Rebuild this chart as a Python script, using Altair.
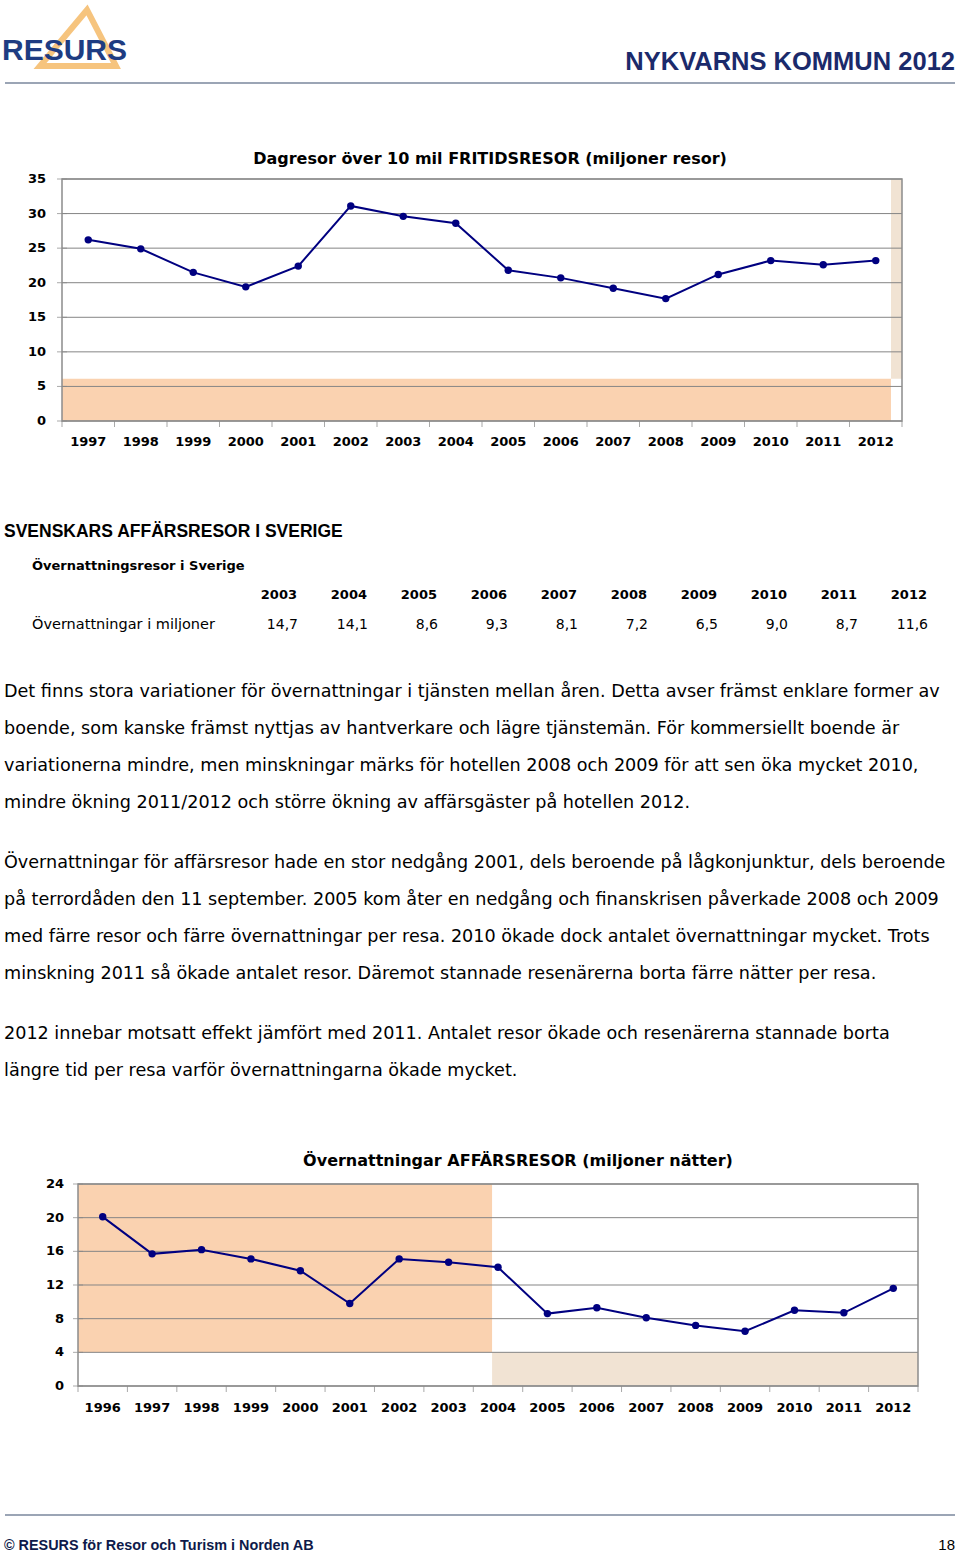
import altair as alt
import pandas as pd

# ---------------- data ----------------
top_years = list(range(1997, 2013))
top_values = [26.2, 24.9, 21.5, 19.4, 22.4, 31.1, 29.6, 28.6, 21.8, 20.7, 19.2, 17.7, 21.2, 23.2, 22.6, 23.2]
top_yticks = [0, 5, 10, 15, 20, 25, 30, 35]
top_title = "Dagresor över 10 mil FRITIDSRESOR (miljoner resor)"

bot_years = list(range(1996, 2013))
bot_values = [20.1, 15.7, 16.2, 15.1, 13.7, 9.8, 15.1, 14.7, 14.1, 8.6, 9.3, 8.1, 7.2, 6.5, 9.0, 8.7, 11.6]
bot_yticks = [0, 4, 8, 12, 16, 20, 24]
bot_title = "Övernattningar AFFÄRSRESOR (miljoner nätter)"

table_years = list(range(2003, 2013))
table_values = [14.7, 14.1, 8.6, 9.3, 8.1, 7.2, 6.5, 9.0, 8.7, 11.6]

header_title = "NYKVARNS KOMMUN 2012"
logo_text = "RESURS"
section_title = "SVENSKARS AFFÄRSRESOR I SVERIGE"
table_caption = "Övernattningsresor i Sverige"
table_row_label = "Övernattningar i miljoner"

para1 = [
    "Det finns stora variationer för övernattningar i tjänsten mellan åren. Detta avser främst enklare former av",
    "boende, som kanske främst nyttjas av hantverkare och lägre tjänstemän. För kommersiellt boende är",
    "variationerna mindre, men minskningar märks för hotellen 2008 och 2009 för att sen öka mycket 2010,",
    "mindre ökning 2011/2012 och större ökning av affärsgäster på hotellen 2012.",
]
para2 = [
    "Övernattningar för affärsresor hade en stor nedgång 2001, dels beroende på lågkonjunktur, dels beroende",
    "på terrordåden den 11 september. 2005 kom åter en nedgång och finanskrisen påverkade 2008 och 2009",
    "med färre resor och färre övernattningar per resa. 2010 ökade dock antalet övernattningar mycket. Trots",
    "minskning 2011 så ökade antalet resor. Däremot stannade resenärerna borta färre nätter per resa.",
]
para3 = [
    "2012 innebar motsatt effekt jämfört med 2011. Antalet resor ökade och resenärerna stannade borta",
    "längre tid per resa varför övernattningarna ökade mycket.",
]
footer_left = "© RESURS för Resor och Turism i Norden AB"
footer_right = "18"

# ---------------- styles ----------------
SANS = "Liberation Sans, Arial, sans-serif"
WIDE = "DejaVu Sans, Verdana, sans-serif"
NAVY = "#1B2A6B"
LINE = "#000080"
PEACH = "#FAD2B0"
BEIGE = "#F1E3D3"
GRID = "#858585"

ONE = pd.DataFrame({"a": [0]})


def txt(s, x, y, size, weight="normal", color="#000000", align="left", font=SANS, line_height=None, baseline="alphabetic"):
    kw = dict(fontSize=size, fontWeight=weight, color=color, align=align, baseline=baseline, font=font)
    if line_height:
        kw["lineHeight"] = line_height
    return alt.Chart(ONE).mark_text(**kw).encode(x=alt.value(x), y=alt.value(y), text=alt.value(s))


def line_chart(years, values, yticks, xrange, yrange, bands, ylab_dx, xlab_dy):
    lo, hi = years[0] - 0.5, years[-1] + 0.5
    xs = alt.Scale(domain=[lo, hi], range=xrange, nice=False, zero=False)
    ys = alt.Scale(domain=[yticks[0], yticks[-1]], range=yrange, nice=False)

    def X(f):
        return alt.X(f, type="quantitative", scale=xs, axis=None)

    def Y(f):
        return alt.Y(f, type="quantitative", scale=ys, axis=None)

    layers = []
    for (bx0, bx1, by0, by1, col) in bands:
        bdf = pd.DataFrame({"x0": [bx0], "x1": [bx1], "y0": [by0], "y1": [by1]})
        layers.append(alt.Chart(bdf).mark_rect(color=col).encode(x=X("x0"), x2="x1", y=Y("y0"), y2="y1"))

    gdf = pd.DataFrame({"v": yticks, "x0": lo, "x1": hi, "lab": [str(t) for t in yticks]})
    layers.append(alt.Chart(gdf).mark_rule(color=GRID, strokeWidth=1).encode(x=X("x0"), x2="x1", y=Y("v")))
    layers.append(alt.Chart(gdf).mark_tick(orient="horizontal", size=10, thickness=1, color=GRID).encode(x=X("x0"), y=Y("v")))
    layers.append(alt.Chart(gdf).mark_text(align="right", baseline="middle", dx=ylab_dx, fontSize=13, fontWeight="bold", font=WIDE, color="#000").encode(x=X("x0"), y=Y("v"), text="lab:N"))

    bdry = [y - 0.5 for y in years] + [hi]
    tdf = pd.DataFrame({"b": bdry, "y0": yticks[0]})
    layers.append(alt.Chart(tdf).mark_tick(orient="vertical", size=6, thickness=1, yOffset=3, color=GRID).encode(x=X("b"), y=Y("y0")))

    border = pd.DataFrame({"x0": [lo], "x1": [hi], "y0": [yticks[0]], "y1": [yticks[-1]]})
    layers.append(alt.Chart(border).mark_rect(fill="transparent", stroke="#8C8C8C", strokeWidth=1.5).encode(x=X("x0"), x2="x1", y=Y("y0"), y2="y1"))

    ddf = pd.DataFrame({"year": years, "v": values, "lab": [str(y) for y in years], "y0": yticks[0]})
    layers.append(alt.Chart(ddf).mark_line(color=LINE, strokeWidth=2).encode(x=X("year"), y=Y("v")))
    layers.append(alt.Chart(ddf).mark_point(color=LINE, filled=True, size=55, opacity=1).encode(x=X("year"), y=Y("v")))
    layers.append(alt.Chart(ddf).mark_text(align="center", baseline="alphabetic", dy=xlab_dy, fontSize=13, fontWeight="bold", font=WIDE, color="#000").encode(x=X("year"), y=Y("y0"), text="lab:N"))
    return alt.layer(*layers)


top = line_chart(
    top_years, top_values, top_yticks, [62, 902], [421, 179],
    bands=[(1996.5, 2012.29, 0, 6.1, PEACH), (2012.29, 2012.5, 6.1, 35, BEIGE)],
    ylab_dx=-16, xlab_dy=25,
)
bottom = line_chart(
    bot_years, bot_values, bot_yticks, [78, 918], [1386, 1184],
    bands=[(1995.5, 2003.88, 4, 24, PEACH), (2003.88, 2012.5, 0, 4, BEIGE)],
    ylab_dx=-14, xlab_dy=26,
)

# table
tsc = alt.Scale(domain=[table_years[0], table_years[-1]], range=[297, 927], zero=False, nice=False)
tab_df = pd.DataFrame({
    "year": table_years,
    "ylab": [str(y) for y in table_years],
    "vlab": [f"{v:.1f}".replace(".", ",") for v in table_values],
})
table_years_row = alt.Chart(tab_df).mark_text(align="right", baseline="alphabetic", fontSize=13, fontWeight="bold", font=WIDE, color="#000").encode(
    x=alt.X("year:Q", scale=tsc, axis=None), y=alt.value(599), text="ylab:N")
table_vals_row = alt.Chart(tab_df).mark_text(align="right", baseline="alphabetic", fontSize=14, font=WIDE, color="#000", dx=1).encode(
    x=alt.X("year:Q", scale=tsc, axis=None), y=alt.value(629), text="vlab:N")

# logo triangle
logo_tri = alt.Chart(ONE).mark_point(
    shape="M0.237,-0.737L1,0.737L-1,0.737Z", filled=False, strokeWidth=6, color="#F6C47E", opacity=1, size=5776
).encode(x=alt.value(78), y=alt.value(38))

header_rule = alt.Chart(ONE).mark_rule(color="#9BA5B5", strokeWidth=2).encode(x=alt.value(5), x2=alt.value(955), y=alt.value(83))
footer_rule = alt.Chart(ONE).mark_rule(color="#9BA5B5", strokeWidth=2).encode(x=alt.value(5), x2=alt.value(955), y=alt.value(1515))

PARA = 17.6

layers = [
    logo_tri,
    txt(logo_text, 2, 60, 30, "bold", "#1E3C82"),
    txt(header_title, 955, 70, 25.5, "bold", NAVY, align="right"),
    header_rule,
    txt(top_title, 490, 164, 16, "bold", align="center", font=WIDE),
    top,
    txt(section_title, 4, 537, 17.5, "bold"),
    txt(table_caption, 32, 570, 13, "bold", font=WIDE),
    txt(table_row_label, 32, 629, 14.5, font=WIDE),
    table_years_row,
    table_vals_row,
    txt(para1, 4, 697, PARA, line_height=37, font=WIDE),
    txt(para2, 4, 868, PARA, line_height=37, font=WIDE),
    txt(para3, 4, 1039, PARA, line_height=37, font=WIDE),
    txt(bot_title, 518, 1166, 16, "bold", align="center", font=WIDE),
    bottom,
    footer_rule,
    txt(footer_left, 4, 1550, 14.4, "bold", "#0E1A4A"),
    txt(footer_right, 955, 1550, 15, align="right"),
]

chart = (
    alt.layer(*layers)
    .resolve_scale(x="independent", y="independent")
    .properties(width=960, height=1556, padding=0, autosize="none", background="white")
    .configure_view(stroke=None)
)

chart.save("out.html", embed_options={"renderer": "svg", "actions": False})
